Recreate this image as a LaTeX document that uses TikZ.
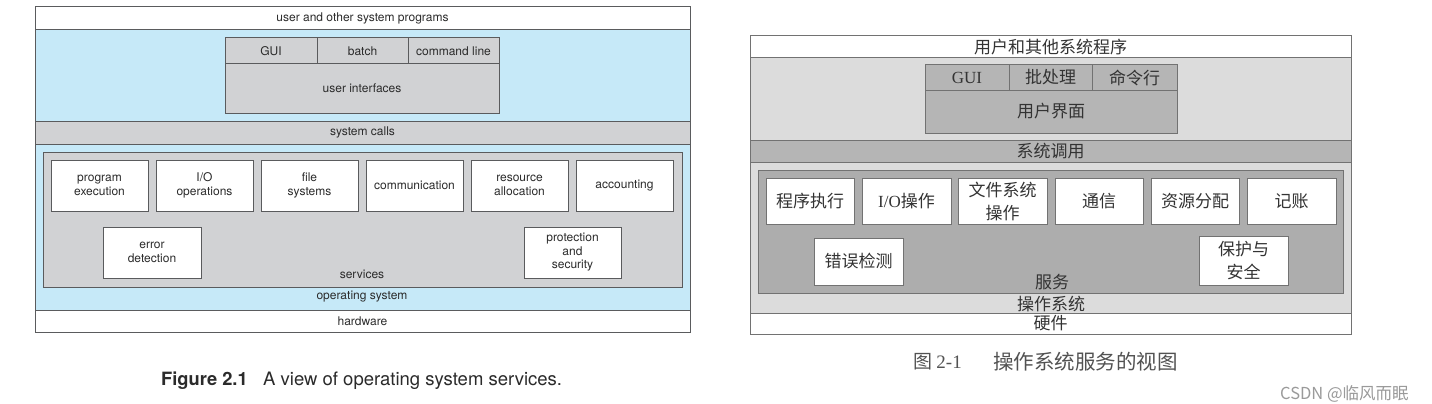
\documentclass[tikz,border=0pt]{standalone}
\usepackage{fontspec}
\setmainfont{TeX Gyre Heros}
\newfontfamily\cjk{Noto Sans CJK SC}
\newfontfamily\serifl{Liberation Serif}
\definecolor{osblue}{HTML}{C6E9F8}
\definecolor{osgray}{HTML}{D1D2D4}
\definecolor{lborder}{HTML}{5A5B5D}
\definecolor{ltext}{HTML}{2B2B2B}
\definecolor{cnlight}{HTML}{DCDCDC}
\definecolor{cndark}{HTML}{B5B5B5}
\definecolor{cnserv}{HTML}{ADADAD}
\definecolor{cnborder}{HTML}{727272}
\definecolor{cntext}{HTML}{333333}
\definecolor{wmark}{HTML}{9A9A9A}
\begin{document}
\begin{tikzpicture}[x=1pt,y=-1pt,
  lbase/.style={draw=lborder, line width=1pt, inner sep=0pt, outer sep=0pt, anchor=north west,
    font=\fontsize{12}{13.5}\selectfont, text=ltext, align=center},
  lwhite/.style={lbase, fill=white},
  lgray/.style={lbase, fill=osgray},
  lblue/.style={lbase, fill=osblue},
  lsvc/.style={lwhite, minimum width=97, minimum height=51},
  llabel/.style={inner sep=0pt, font=\fontsize{12}{13.5}\selectfont, text=ltext},
  cbase/.style={draw=cnborder, line width=1pt, inner sep=0pt, outer sep=0pt, anchor=north west,
    font=\cjk\fontsize{17}{23}\selectfont, text=cntext, align=center},
  cwhite/.style={cbase, fill=white},
  clight/.style={cbase, fill=cnlight},
  cdark/.style={cbase, fill=cndark},
  cserv/.style={cbase, fill=cnserv},
  csvc/.style={cwhite, minimum width=88, minimum height=46},
  clabel/.style={inner sep=0pt, font=\cjk\fontsize{17}{20}\selectfont, text=cntext}]
\fill[white] (0,0) rectangle (1432,404);
\useasboundingbox (0,0) rectangle (1432,404);

% ---------------- left (English) diagram ----------------
\node[lblue, minimum width=655, minimum height=280] (los) at (35,30) {};
\node[lwhite, minimum width=655, minimum height=23] (lusr) at (35,7) {user and other system programs};
\node[lgray, minimum width=92, minimum height=26] (lgui) at (225,38) {GUI};
\node[lgray, minimum width=91, minimum height=26] (lbatch) at (317,38) {batch};
\node[lgray, minimum width=91, minimum height=26] (lcmd) at (408,38) {command line};
\node[lgray, minimum width=274, minimum height=49] (lui) at (225,64) {user interfaces};
\node[lgray, minimum width=655, minimum height=23] (lsys) at (35,121) {system calls};
\node[lgray, minimum width=639, minimum height=135] (lserv) at (43,152) {};
\node[lsvc] (lprog) at (51,160) {program\\execution};
\node[lsvc] (lio) at (156,160) {I/O\\operations};
\node[lsvc] (lfile) at (261,160) {file\\systems};
\node[lsvc] (lcomm) at (366,160) {communication};
\node[lsvc] (lres) at (471,160) {resource\\allocation};
\node[lsvc] (lacct) at (576,160) {accounting};
\node[lsvc, minimum width=98] (lerr) at (103,227) {error\\detection};
\node[lsvc] (lprot) at (524,227) {protection\\and\\security};
\node[llabel] (lservl) at (362,274) {services};
\node[llabel] (losl) at (362,297) {operating system};
\node[lwhite, minimum width=655, minimum height=22] (lhw) at (35,310) {hardware};

\node[anchor=base west, inner sep=0pt, font=\fontsize{18.3}{20}\selectfont\bfseries, text=ltext] (lcapn) at (161,385) {Figure 2.1};
\node[anchor=base west, inner sep=0pt, font=\fontsize{18.5}{20}\selectfont, text=ltext] (lcapt) at (263,385) {A view of operating system services.};

% ---------------- right (Chinese) diagram ----------------
\node[clight, minimum width=601, minimum height=255] (cos) at (750,58) {};
\node[cwhite, minimum width=601, minimum height=22] (cusr) at (750,36) {用户和其他系统程序};
\node[cdark, minimum width=84, minimum height=25] (cgui) at (925,65) {\serifl GUI};
\node[cdark, minimum width=83, minimum height=25] (cbatch) at (1009,65) {批处理};
\node[cdark, minimum width=85, minimum height=25] (ccmd) at (1092,65) {命令行};
\node[cdark, minimum width=252, minimum height=43] (cui) at (925,90) {用户界面};
\node[cdark, minimum width=601, minimum height=22] (csys) at (750,140) {系统调用};
\node[cserv, minimum width=585, minimum height=123] (cserv) at (758,170) {};
\node[csvc] (cprog) at (766,178) {程序执行};
\node[csvc, minimum width=89] (cio) at (862,178) {{\serifl I/O}操作};
\node[csvc, minimum width=89] (cfile) at (958,178) {文件系统\\操作};
\node[csvc] (ccomm) at (1055,178) {通信};
\node[csvc] (cres) at (1151,178) {资源分配};
\node[csvc, minimum width=89] (cacct) at (1247,178) {记账};
\node[csvc, minimum width=89, minimum height=47] (cerr) at (814,238) {错误检测};
\node[csvc, minimum width=89, minimum height=49] (cprot) at (1199,236) {保护与\\安全};
\node[clabel] (cservl) at (1052,282) {服务};
\node[clabel] (cosl) at (1051,304) {操作系统};
\node[cwhite, minimum width=601, minimum height=21] (chw) at (750,313) {硬件};

\node[anchor=west, inner sep=0pt, font=\cjk\fontsize{19}{22}\selectfont, text=cntext!85] (ccapn) at (913,362) {图 {\serifl 2-1}};
\node[anchor=west, inner sep=0pt, font=\cjk\fontsize{20.5}{22}\selectfont, text=cntext!85] (ccapt) at (993,362) {操作系统服务的视图};
\node[anchor=west, inner sep=0pt, font=\cjk\fontsize{16.5}{18}\selectfont, text=wmark] (cwm) at (1280,394) {CSDN @临风而眠};
\end{tikzpicture}
\end{document}
